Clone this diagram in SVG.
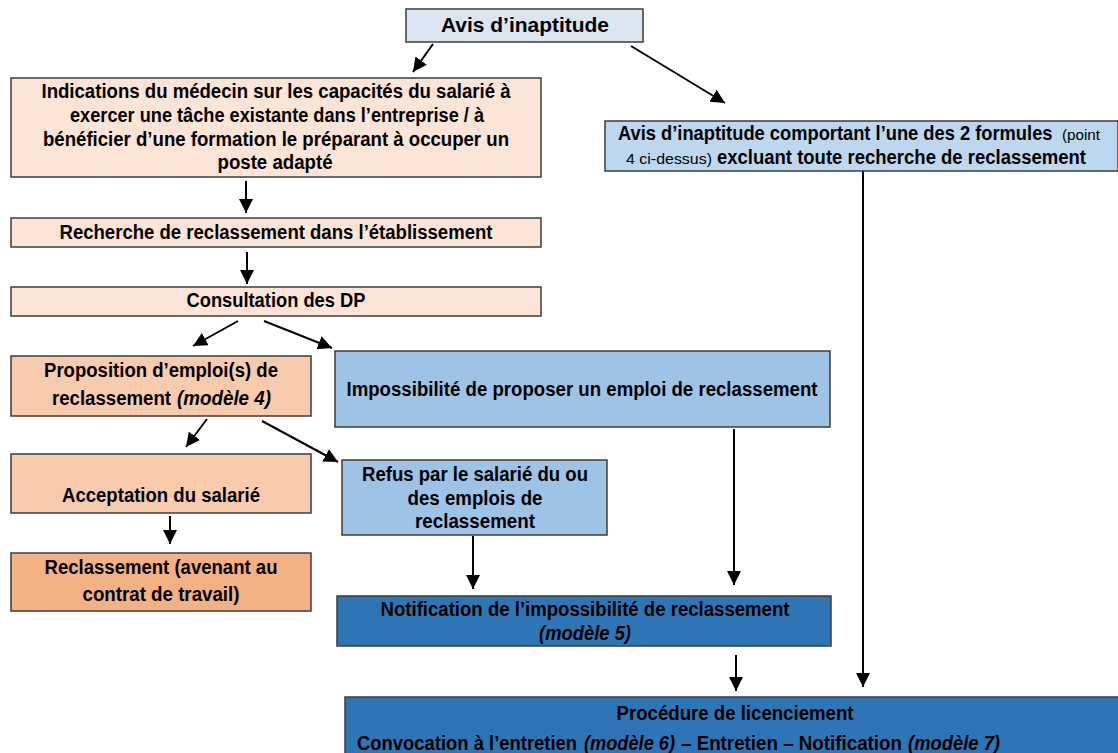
<svg xmlns="http://www.w3.org/2000/svg" width="1118" height="753" viewBox="0 0 1118 753">
<style>
  .box { stroke: #3c3c3c; stroke-width: 1.5; }
  .t { font-family: "Liberation Sans", Arial, sans-serif; font-weight: bold; font-size: 20px; fill: #000; }
  .m { text-anchor: middle; }
  .it { font-style: italic; }
  .sm { font-size: 15px; font-weight: normal; }
  .c { stroke: #000; stroke-width: 2; fill: none; marker-end: url(#ah); }
</style>
<defs>
  <marker id="ah" markerUnits="userSpaceOnUse" markerWidth="16" markerHeight="16" refX="14" refY="7" orient="auto">
    <path d="M0,0 L14,7 L0,14 Z" fill="#000"/>
  </marker>
</defs>
<rect width="1118" height="753" fill="#fff"/>

<g id="connectors">
  <line class="c" x1="433" y1="44" x2="413" y2="72"/>
  <line class="c" x1="631" y1="46" x2="725" y2="103"/>
  <line class="c" x1="863" y1="171" x2="863" y2="687"/>
  <line class="c" x1="246" y1="181" x2="246" y2="213"/>
  <line class="c" x1="247" y1="252" x2="247" y2="284"/>
  <line class="c" x1="238" y1="321" x2="193" y2="346"/>
  <line class="c" x1="264" y1="321" x2="332" y2="348"/>
  <line class="c" x1="207" y1="419" x2="186" y2="447"/>
  <line class="c" x1="262" y1="421" x2="338" y2="462"/>
  <line class="c" x1="170" y1="516" x2="170" y2="544"/>
  <line class="c" x1="473" y1="536" x2="473" y2="589"/>
  <line class="c" x1="734" y1="429" x2="734" y2="585"/>
  <line class="c" x1="736" y1="655" x2="736" y2="691"/>
</g>

<g id="avis">
  <rect class="box" x="406" y="9" width="237" height="33" fill="#dce6f2"/>
  <text class="t m" x="525" y="32" font-size="22" textLength="168" lengthAdjust="spacingAndGlyphs">Avis d’inaptitude</text>
</g>

<g id="indications">
  <rect class="box" x="11" y="78" width="530" height="99" fill="#fce4d6"/>
  <text class="t m" x="276" y="98" textLength="469" lengthAdjust="spacingAndGlyphs">Indications du médecin sur les capacités du salarié à</text>
  <text class="t m" x="277" y="122" textLength="414" lengthAdjust="spacingAndGlyphs">exercer une tâche existante dans l’entreprise / à</text>
  <text class="t m" x="276" y="146" textLength="466" lengthAdjust="spacingAndGlyphs">bénéficier d’une formation le préparant à occuper un</text>
  <text class="t m" x="275" y="169" textLength="115" lengthAdjust="spacingAndGlyphs">poste adapté</text>
</g>

<g id="recherche">
  <rect class="box" x="11" y="218" width="530" height="29" fill="#fce4d6"/>
  <text class="t m" x="276" y="239" textLength="433" lengthAdjust="spacingAndGlyphs">Recherche de reclassement dans l’établissement</text>
</g>

<g id="consultation">
  <rect class="box" x="11" y="287" width="530" height="29" fill="#fce4d6"/>
  <text class="t m" x="276" y="307" textLength="179" lengthAdjust="spacingAndGlyphs">Consultation des DP</text>
</g>

<g id="avis2">
  <rect class="box" x="605" y="121" width="513" height="50" fill="#bdd7ee"/>
  <text class="t" transform="translate(618,140) scale(0.916,1)" x="0" y="0">Avis d’inaptitude comportant l’une des 2 formules</text>
  <text class="t sm" x="1062" y="140" textLength="38" lengthAdjust="spacingAndGlyphs">(point</text>
  <text class="t sm" x="626" y="164" textLength="86" lengthAdjust="spacingAndGlyphs">4 ci-dessus)</text>
  <text class="t" x="717" y="164" textLength="369" lengthAdjust="spacingAndGlyphs">excluant toute recherche de reclassement</text>
</g>

<g id="proposition">
  <rect class="box" x="11" y="356" width="300" height="60" fill="#f8cbad"/>
  <text class="t m" x="161" y="377" textLength="234" lengthAdjust="spacingAndGlyphs">Proposition d’emploi(s) de</text>
  <text class="t" x="52" y="405" textLength="119" lengthAdjust="spacingAndGlyphs">reclassement</text>
  <text class="t it" x="177" y="405" textLength="94" lengthAdjust="spacingAndGlyphs">(modèle 4)</text>
</g>

<g id="impossibilite">
  <rect class="box" x="335" y="351" width="495" height="76" fill="#9dc3e6"/>
  <text class="t m" x="582" y="396" textLength="471" lengthAdjust="spacingAndGlyphs">Impossibilité de proposer un emploi de reclassement</text>
</g>

<g id="acceptation">
  <rect class="box" x="11" y="454" width="300" height="59" fill="#f8cbad"/>
  <text class="t m" x="161" y="502" textLength="198" lengthAdjust="spacingAndGlyphs">Acceptation du salarié</text>
</g>

<g id="refus">
  <rect class="box" x="342" y="460" width="265" height="75" fill="#9dc3e6"/>
  <text class="t m" x="475" y="481" textLength="226" lengthAdjust="spacingAndGlyphs">Refus par le salarié du ou</text>
  <text class="t m" x="475" y="505" textLength="135" lengthAdjust="spacingAndGlyphs">des emplois de</text>
  <text class="t m" x="475" y="528" textLength="120" lengthAdjust="spacingAndGlyphs">reclassement</text>
</g>

<g id="reclassement">
  <rect class="box" x="11" y="553" width="300" height="58" fill="#f4b183"/>
  <text class="t m" x="161" y="574" textLength="233" lengthAdjust="spacingAndGlyphs">Reclassement (avenant au</text>
  <text class="t m" x="161" y="601" textLength="157" lengthAdjust="spacingAndGlyphs">contrat de travail)</text>
</g>

<g id="notification">
  <rect class="box" x="337" y="596" width="494" height="50" fill="#2e75b6"/>
  <text class="t m" x="585" y="616" textLength="409" lengthAdjust="spacingAndGlyphs">Notification de l’impossibilité de reclassement</text>
  <text class="t m it" x="585" y="640" textLength="92" lengthAdjust="spacingAndGlyphs">(modèle 5)</text>
</g>

<g id="procedure">
  <rect class="box" x="345" y="697" width="780" height="70" fill="#2e75b6"/>
  <text class="t m" x="735" y="720" textLength="237" lengthAdjust="spacingAndGlyphs">Procédure de licenciement</text>
  <text class="t" transform="translate(357,750) scale(0.922,1)" x="0" y="0">Convocation à l’entretien</text>
  <text class="t it" x="584" y="750" textLength="91" lengthAdjust="spacingAndGlyphs">(modèle 6)</text>
  <text class="t" x="681" y="750" textLength="221" lengthAdjust="spacingAndGlyphs">– Entretien – Notification</text>
  <text class="t it" x="908" y="750" textLength="92" lengthAdjust="spacingAndGlyphs">(modèle 7)</text>
</g>
</svg>
